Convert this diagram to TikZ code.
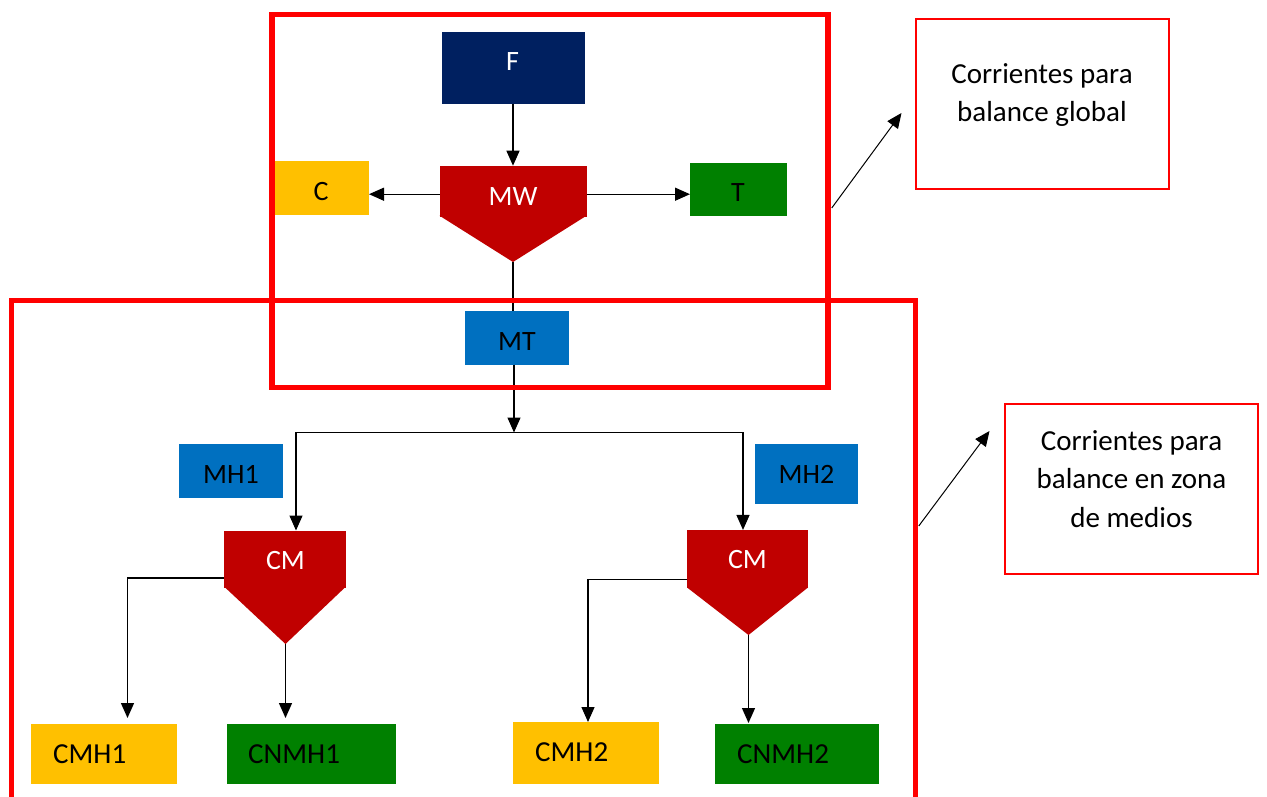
\documentclass[tikz,border=0pt]{standalone}
\usepackage{fontspec}
\setmainfont{Carlito}
\usetikzlibrary{calc,arrows.meta}
\definecolor{navy}{HTML}{002060}
\definecolor{sepred}{HTML}{C00000}
\definecolor{gold}{HTML}{FFC000}
\definecolor{grn}{HTML}{008000}
\definecolor{blu}{HTML}{0070C0}
\definecolor{framered}{HTML}{FF0000}
\begin{document}
\begin{tikzpicture}[x=1pt,y=-1pt,
  box/.style={draw=none, inner sep=0pt, outer sep=0pt},
  lbl/.style={inner sep=0pt, font=\fontsize{28}{34}\selectfont, text height=18pt, text depth=0pt},
  blbl/.style={inner sep=0pt, font=\fontsize{29}{35}\selectfont, text height=18.7pt, text depth=0pt, anchor=west},
  arr/.style={line width=1.3pt, -{Triangle[length=15pt,width=13pt]}},
  thinarr/.style={line width=1pt, -{Triangle[length=15pt,width=13pt]}},
  ln/.style={line width=1.3pt},
  zone/.style={draw=framered, line width=5.5pt, inner sep=0pt},
  note/.style={draw=framered, line width=2pt, inner sep=0pt},
  notetext/.style={align=center, inner sep=0pt, font=\fontsize{29}{38.5}\selectfont}]

\clip (0,0) rectangle (1267,797);
\fill[white] (0,0) rectangle (1267,797);

% --- top part
\node[box, fill=navy, minimum width=143, minimum height=72] (f) at (513,67.7) {};
\node[lbl, text=white] (ft) at (512.5,62) {F};
\node[box, fill=sepred, minimum width=147, minimum height=51] (mw) at (513,191.2) {};
\coordinate (mwtip) at (513,262);
\fill[sepred] ($(mw.south west)+(0,-1)$) -- (mwtip) -- ($(mw.south east)+(0,-1)$) -- cycle;
\node[lbl, text=white] (mwt) at (513,196.5) {MW};
\node[box, fill=gold, minimum width=94, minimum height=54] (c) at (322,188) {};
\node[lbl] (ct) at (321,191.5) {C};
\node[box, fill=grn, minimum width=97, minimum height=53] (t) at (738.5,189.5) {};
\node[lbl] (tt) at (738,192.5) {T};
\node[box, fill=blu, minimum width=104, minimum height=53.7] (mt) at (517,337.8) {};
\node[lbl] (mtt) at (517,341) {MT};

% --- middle part
\node[box, fill=blu, minimum width=104, minimum height=54] (mh1) at (231,471) {};
\node[lbl] (mh1t) at (231,474) {MH1};
\node[box, fill=blu, minimum width=103, minimum height=60] (mh2) at (806.5,474) {};
\node[lbl] (mh2t) at (806.5,474) {MH2};

\node[box, fill=sepred, minimum width=122, minimum height=57] (cm1) at (285,559) {};
\coordinate (cm1tip) at (285.5,644);
\fill[sepred] ($(cm1.south west)+(0,-1)$) -- (cm1tip) -- ($(cm1.south east)+(0,-1)$) -- cycle;
\node[lbl, text=white] (cm1t) at (285.5,560.5) {CM};

\node[box, fill=sepred, minimum width=121, minimum height=58.5] (cm2) at (747.5,559.2) {};
\coordinate (cm2tip) at (748.5,635);
\fill[sepred] ($(cm2.south west)+(0,-1)$) -- (cm2tip) -- ($(cm2.south east)+(0,-1)$) -- cycle;
\node[lbl, text=white] (cm2t) at (747.5,559.5) {CM};

% --- bottom boxes
\node[box, fill=gold, minimum width=146, minimum height=60] (cmh1) at (104,754) {};
\node[blbl] (cmh1t) at ($(cmh1.west)+(22,0)$) {CMH1};
\node[box, fill=grn, minimum width=169, minimum height=60] (cnmh1) at (311.5,754) {};
\node[blbl] (cnmh1t) at ($(cnmh1.west)+(21,0)$) {CNMH1};
\node[box, fill=gold, minimum width=146, minimum height=62] (cmh2) at (586,753) {};
\node[blbl] (cmh2t) at ($(cmh2.west)+(22,-1)$) {CMH2};
\node[box, fill=grn, minimum width=164, minimum height=60] (cnmh2) at (797,754) {};
\node[blbl] (cnmh2t) at ($(cnmh2.west)+(22,0)$) {CNMH2};

% --- connectors
\draw[arr] (f.south) -- (mw.north);
\draw[arr] ($(mw.west)+(0,3)$) coordinate (mwl) -- (mwl -| c.east);
\draw[arr] ($(mw.east)+(0,3)$) coordinate (mwr) -- (mwr -| t.west);
\draw[ln] (mwtip) -- (mwtip |- mt.north);
\coordinate (split) at (514,432.5);
\draw[arr] (mt.south -| split) -- (split);
\draw[arr] (split) -| ($(cm1.north)+(11,0)$);
\draw[arr] (split) -| ($(cm2.north)+(-4.5,0)$);
\draw[arr, shorten >=6pt] ($(cm1.west)+(0,19)$) -| ($(cmh1.north)+(23.5,0)$);
\draw[arr, shorten >=6pt] (cm1tip) -- (cm1tip |- cnmh1.north);
\draw[arr] ($(cm2.west)+(0,20)$) -| ($(cmh2.north)+(2,0)$);
\draw[arr, shorten >=1pt] (cm2tip) -- (cm2tip |- cnmh2.north);

% --- zones
\node[zone, minimum width=556, minimum height=373.4] (gz) at (550,201) {};
\node[zone, minimum width=904, minimum height=560] (mz) at (463.5,580.7) {};

% --- notes
\node[note, minimum width=253, minimum height=170] (n1) at (1042,104) {};
\node[notetext] (n1t) at (1042,95) {Corrientes para\\balance global};
\node[note, minimum width=253, minimum height=170] (n2) at (1131.5,489) {};
\node[notetext] (n2t) at (1131.5,479) {Corrientes para\\balance en zona\\de medios};

\draw[thinarr] ($(gz.east)+(1,7)$) -- ($(n1.west)+(-13,9)$);
\draw[thinarr] ($(mz.east)+(0.5,-54.7)$) -- ($(n2.west)+(-14.5,-58)$);
\end{tikzpicture}
\end{document}
